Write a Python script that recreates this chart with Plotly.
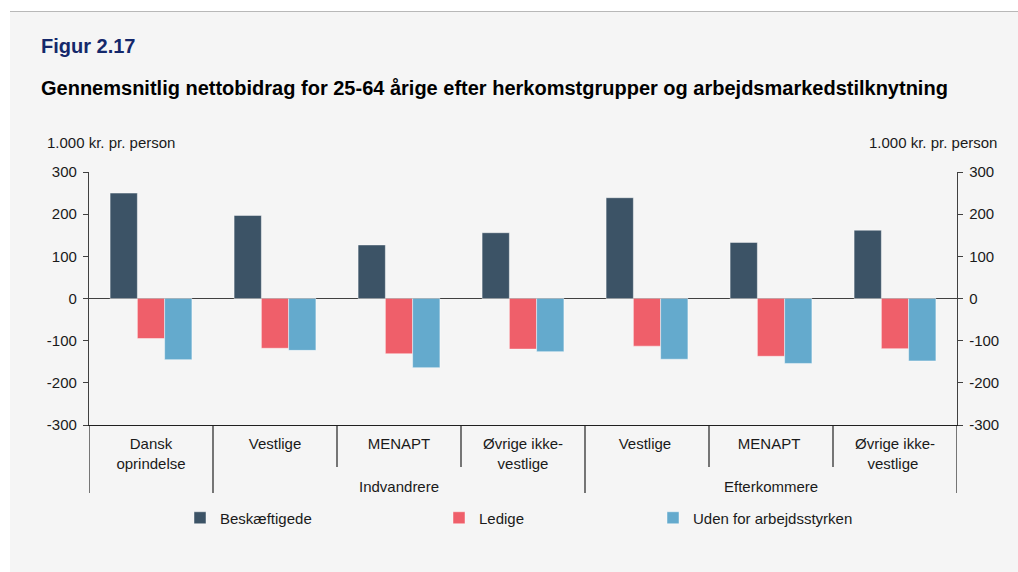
import plotly.graph_objects as go

# ---- data ----
categories = ["Dansk<br>oprindelse", "Vestlige", "MENAPT", "Øvrige ikke-<br>vestlige",
              "Vestlige ", "MENAPT ", "Øvrige ikke-<br>vestlige "]
groups = ["Indvandrere", "Efterkommere"]
beskaeftigede = [250, 197, 127, 156, 239, 133, 162]
ledige = [-95, -118, -131, -120, -113, -137, -119]
uden = [-145, -123, -164, -126, -144, -154, -148]
series_names = ["Beskæftigede", "Ledige", "Uden for arbejdsstyrken"]
series_values = [beskaeftigede, ledige, uden]
colors = ["#3c5366", "#ef5f6a", "#64aacd"]
yticks = [-300, -200, -100, 0, 100, 200, 300]
ytick_labels = ["-300", "-200", "-100", "0", "100", "200", "300"]

W, H = 1018, 572
L, R, T, B = 89, 957, 172, 425  # plot area in px
FONT = "Liberation Sans, Arial, sans-serif"
TXT = "#1a1a1a"
AX = "#404040"
FS = 15


def px_x(px):
    return (px - L) / (R - L)


def px_y(py):
    return (B - py) / (B - T)


fig = go.Figure()
legend_ids = ["legend", "legend2", "legend3"]
for name, vals, col, lg in zip(series_names, series_values, colors, legend_ids):
    fig.add_trace(go.Bar(
        x=categories, y=vals, name=name,
        marker=dict(color=col, line=dict(color="rgba(255,255,255,0.45)", width=1)),
        legend=lg,
    ))

legend_common = dict(orientation="h", bgcolor="rgba(0,0,0,0)", borderwidth=0,
                     font=dict(family=FONT, size=FS, color=TXT),
                     xref="container", yref="container", xanchor="left", yanchor="middle",
                     y=1 - 518 / H)
fig.update_layout(
    legend=dict(x=(180) / W, **legend_common),
    legend2=dict(x=(439) / W, **legend_common),
    legend3=dict(x=(653) / W, **legend_common),
)

fig.update_layout(
    width=W, height=H,
    margin=dict(l=L, r=W - R, t=T, b=H - B, pad=0),
    paper_bgcolor="#f5f5f5", plot_bgcolor="#f5f5f5",
    barmode="group", bargap=0.34, bargroupgap=0,
    font=dict(family=FONT, size=FS, color=TXT),
    showlegend=True,
    xaxis=dict(type="category", range=[-0.5, 6.5], showgrid=False, zeroline=False,
               showline=True, linecolor="#202020", linewidth=1.2, ticks="",
               tickfont=dict(family=FONT, size=FS, color=TXT),
               ticklabelstandoff=5, fixedrange=True),
    yaxis=dict(range=[-300, 300], tickvals=yticks, ticktext=ytick_labels, showgrid=False,
               zeroline=True, zerolinecolor=AX, zerolinewidth=1.2,
               showline=True, linecolor=AX, linewidth=1.3,
               ticks="outside", ticklen=5, tickcolor=AX, tickwidth=1.2,
               tickfont=dict(family=FONT, size=FS, color=TXT),
               ticklabelstandoff=3, fixedrange=True),
    yaxis2=dict(range=[-300, 300], tickvals=yticks, ticktext=ytick_labels,
                overlaying="y", side="right",
                showgrid=False, zeroline=False, showline=True, linecolor=AX, linewidth=1.3,
                ticks="outside", ticklen=5, tickcolor=AX, tickwidth=1.2,
                tickfont=dict(family=FONT, size=FS, color=TXT),
                ticklabelstandoff=3, fixedrange=True),
)

# invisible trace to anchor the right axis
fig.add_trace(go.Scatter(x=[categories[0]], y=[0], yaxis="y2", mode="markers",
                         marker=dict(opacity=0), showlegend=False, hoverinfo="skip"))

shapes = []
# white top strip & left strip, gray rule line
shapes.append(dict(type="rect", xref="paper", yref="paper", x0=px_x(-5), x1=px_x(W + 5),
                   y0=px_y(11), y1=px_y(-5), fillcolor="white", line=dict(width=0), layer="below"))
shapes.append(dict(type="rect", xref="paper", yref="paper", x0=px_x(-5), x1=px_x(10),
                   y0=px_y(H + 5), y1=px_y(-5), fillcolor="white", line=dict(width=0), layer="below"))
shapes.append(dict(type="line", xref="paper", yref="paper", x0=px_x(10), x1=px_x(W + 5),
                   y0=px_y(11.5), y1=px_y(11.5), line=dict(color="#b8b8b8", width=1.2)))
# category dividers below axis
n = len(categories)
long_div = [-0.5, 0.5, 3.5, n - 0.5]
for k in range(n + 1):
    xb = k - 0.5
    bottom = 493 if xb in long_div else 467
    shapes.append(dict(type="line", xref="x", yref="paper", x0=xb, x1=xb,
                       y0=0, y1=px_y(bottom), line=dict(color="#202020", width=1.2)))
fig.update_layout(shapes=shapes)

ann = []
ann.append(dict(text="<b>Figur 2.17</b>", xref="paper", yref="paper", x=px_x(39), y=px_y(46),
                xanchor="left", yanchor="middle", showarrow=False,
                font=dict(family=FONT, size=20, color="#14286b")))
ann.append(dict(text="<b>Gennemsnitlig nettobidrag for 25-64 årige efter herkomstgrupper og arbejdsmarkedstilknytning</b>",
                xref="paper", yref="paper", x=px_x(39), y=px_y(88),
                xanchor="left", yanchor="middle", showarrow=False,
                font=dict(family=FONT, size=20, color="#000000")))
ann.append(dict(text="1.000 kr. pr. person", xref="paper", yref="paper", x=px_x(45), y=px_y(142),
                xanchor="left", yanchor="middle", showarrow=False,
                font=dict(family=FONT, size=FS, color=TXT)))
ann.append(dict(text="1.000 kr. pr. person", xref="paper", yref="paper", x=px_x(999), y=px_y(142),
                xanchor="right", yanchor="middle", showarrow=False,
                font=dict(family=FONT, size=FS, color=TXT)))
group_centers = [2, 5]
for g, c in zip(groups, group_centers):
    ann.append(dict(text=g, xref="x", yref="paper", x=c, y=px_y(486),
                    xanchor="center", yanchor="middle", showarrow=False,
                    font=dict(family=FONT, size=FS, color=TXT)))
fig.update_layout(annotations=ann)

fig.write_html("out.html",
               config={"displayModeBar": False},
               post_script="document.body.style.margin='0';document.body.style.overflow='hidden';")
